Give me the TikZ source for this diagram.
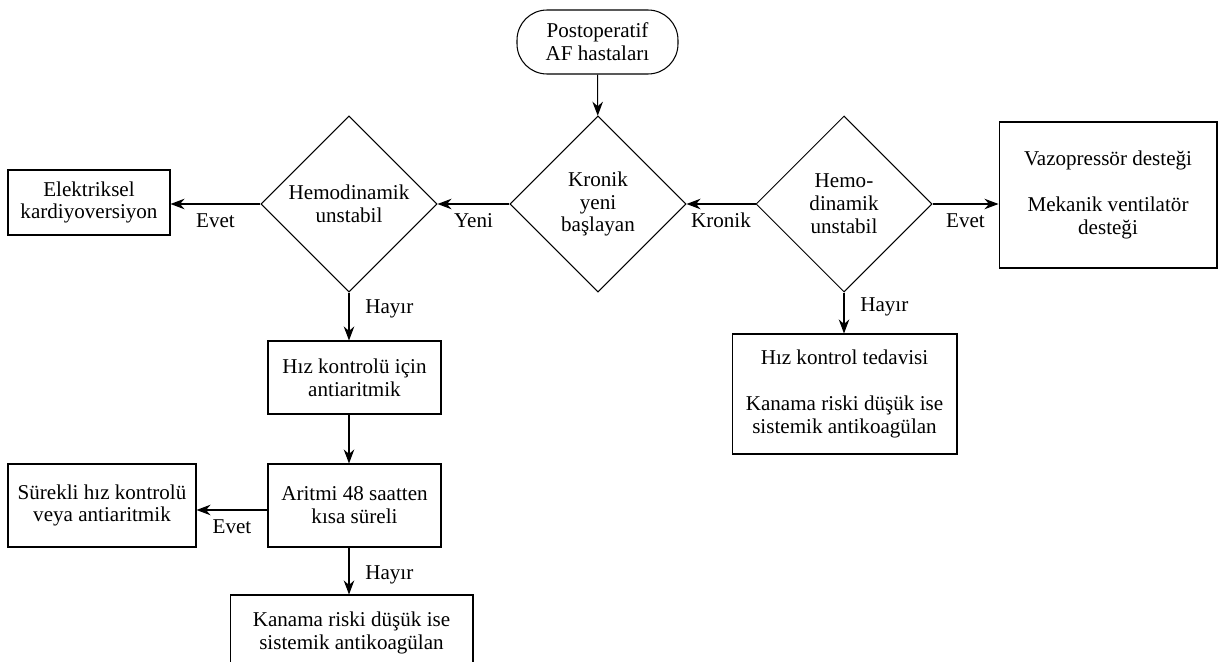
\documentclass[tikz,border=0pt]{standalone}
\usepackage{fontspec}
\setmainfont{Liberation Serif}
\usepackage{tikz}
\usetikzlibrary{shapes.geometric,arrows.meta}

\begin{document}
\begin{tikzpicture}[x=0.02cm, y=-0.02cm,
    font=\fontsize{12}{13}\selectfont, line width=0.6pt,
    kutu/.style={draw, rectangle, align=center, inner sep=2pt},
    karar/.style={draw, diamond, aspect=1, align=center, inner sep=0pt,
                  minimum width=3.52cm, minimum height=3.52cm},
    ok/.style={-{Stealth[length=8pt, width=6pt]}},
    etiket/.style={inner sep=2pt}]

    \useasboundingbox (0,0) rectangle (1220,662);

    \node[kutu, rounded corners=0.6cm, minimum width=3.22cm, minimum height=1.28cm]
        (start) at (597.5,42) {Postoperatif\\AF hastaları};

    \node[karar] (kronik) at (598,204) {Kronik\\yeni\\başlayan};
    \node[karar] (hemoL) at (349,204) {Hemodinamik\\unstabil};
    \node[karar] (hemoR) at (844,204) {Hemo-\\dinamik\\unstabil};

    \node[kutu, minimum width=3.24cm, minimum height=1.3cm]
        (elektrik) at (89,202.5) {Elektriksel\\kardiyoversiyon};
    \node[kutu, minimum width=4.36cm, minimum height=2.92cm]
        (vazo) at (1108,195) {Vazopressör desteği\\[\baselineskip]Mekanik ventilatör\\desteği};
    \node[kutu, minimum width=4.5cm, minimum height=2.4cm]
        (hizTedavi) at (844.5,394) {Hız kontrol tedavisi\\[\baselineskip]Kanama riski düşük ise\\sistemik antikoagülan};

    \node[kutu, minimum width=3.46cm, minimum height=1.46cm]
        (hizAnti) at (354.5,377.5) {Hız kontrolü için\\antiaritmik};
    \node[kutu, minimum width=3.46cm, minimum height=1.66cm]
        (aritmi) at (354.5,505.5) {Aritmi 48 saatten\\kısa süreli};
    \node[kutu, minimum width=3.76cm, minimum height=1.66cm]
        (surekli) at (102,505.5) {Sürekli hız kontrolü\\veya antiaritmik};
    \node[kutu, minimum width=4.86cm, minimum height=1.52cm]
        (kanama) at (351.5,633) {Kanama riski düşük ise\\sistemik antikoagülan};

    \draw[ok] (start) -- (kronik);
    \draw[ok] (kronik.west) -- (hemoL.east) node[etiket, midway, below=3pt] {Yeni};
    \draw[ok] (hemoR.west) -- (kronik.east) node[etiket, midway, below=3pt] {Kronik};
    \draw[ok] (hemoL.west) -- (elektrik.east |- hemoL.west) node[etiket, midway, below=3pt] {Evet};
    \draw[ok] (hemoR.east) -- (vazo.west |- hemoR.east) node[etiket, midway, below=3pt] {Evet};

    \draw[ok] (hemoR.south) -- (hemoR.south |- hizTedavi.north) node[etiket, pos=0.35, right=7pt] {Hayır};
    \draw[ok] (hemoL.south) -- (hemoL.south |- hizAnti.north) node[etiket, pos=0.35, right=7pt] {Hayır};
    \draw[ok] (hemoL.south |- hizAnti.south) -- (hemoL.south |- aritmi.north);
    \draw[ok] ([yshift=-0.09cm]aritmi.west) -- ([yshift=-0.09cm]surekli.east) node[etiket, midway, below=3pt] {Evet};
    \draw[ok] (hemoL.south |- aritmi.south) -- (hemoL.south |- kanama.north) node[etiket, pos=0.58, right=7pt] {Hayır};

      % \draw[help lines] (0,0) grid[step=50] (1220,662);
\end{tikzpicture}
\end{document}
